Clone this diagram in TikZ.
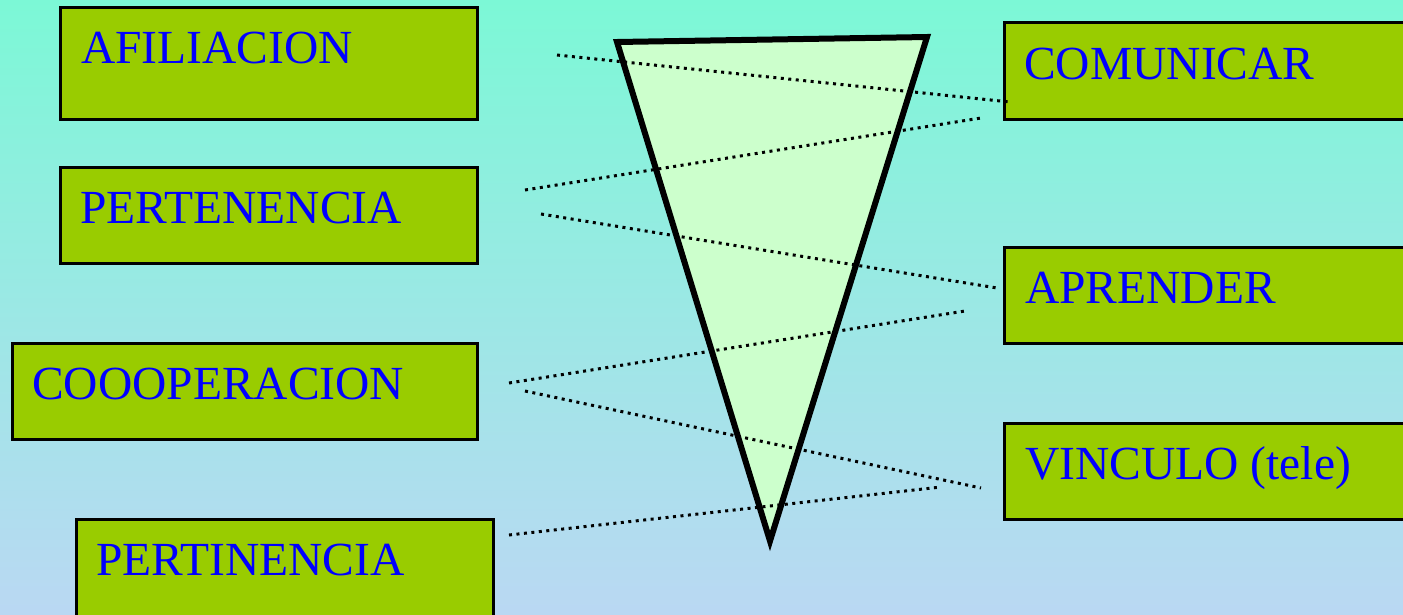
\documentclass[tikz,border=0pt]{standalone}
\usepackage{fontspec}
\setmainfont{Liberation Serif}
\definecolor{bgtop}{RGB}{124,248,214}
\definecolor{bgbot}{RGB}{186,216,243}
\definecolor{boxgreen}{RGB}{153,204,0}
\definecolor{trigreen}{RGB}{204,255,204}
\definecolor{txtblue}{RGB}{0,0,255}
\begin{document}
\begin{tikzpicture}[x=1pt,y=-1pt,
  box/.style={draw=black, line width=3pt, fill=boxgreen, rectangle, inner sep=0pt},
  lbl/.style={anchor=base west, inner sep=0pt, text=txtblue, font=\fontsize{47.5}{50}\selectfont},
  dotline/.style={line width=3pt, dash pattern=on 3pt off 4.5pt, black}]
\useasboundingbox (0,0) rectangle (1403,614);
\clip (0,0) rectangle (1403,614);
\shade[top color=bgtop, bottom color=bgbot] (0,0) rectangle (1403,614);
% left boxes
\node[box, minimum width=417pt, minimum height=112pt] (afil) at (268.5,63) {};
\node[box, minimum width=417pt, minimum height=96pt] (pert) at (268.5,215) {};
\node[box, minimum width=465pt, minimum height=96pt] (coop) at (244.5,391) {};
\node[box, minimum width=417pt, minimum height=112pt] (perti) at (284.5,575) {};
% right boxes
\node[box, minimum width=417pt, minimum height=97pt] (comu) at (1212.5,70.5) {};
\node[box, minimum width=417pt, minimum height=96pt] (apre) at (1212.5,295) {};
\node[box, minimum width=417pt, minimum height=96pt] (vinc) at (1212.5,471) {};
% labels
\node[lbl] (tafil) at (81,63) {AFILIACION};
\node[lbl] (tpert) at (80,223) {PERTENENCIA};
\node[lbl] (tcoop) at (32,399) {COOOPERACION};
\node[lbl] (tperti) at (96,575) {PERTINENCIA};
\node[lbl] (tcomu) at (1024,79) {COMUNICAR};
\node[lbl] (tapre) at (1025,303) {APRENDER};
\node[lbl] (tvinc) at (1025,479) {VINCULO (tele)};
% funnel
\coordinate (tl) at (617,42);
\coordinate (tr) at (927,37);
\coordinate (tb) at (770,541);
\draw[line width=6pt, fill=trigreen, line join=miter] (tl) -- (tr) -- (tb) -- cycle;
% dotted lines
\coordinate (a1) at (557,55);  \coordinate (b1) at (1010,102);
\coordinate (a2) at (525,190); \coordinate (b2) at (981,118);
\coordinate (a3) at (541,214); \coordinate (b3) at (997,288);
\coordinate (a4) at (509,383); \coordinate (b4) at (965,311);
\coordinate (a5) at (525,391); \coordinate (b5) at (981,488);
\coordinate (a6) at (509,535); \coordinate (b6) at (941,487);
\foreach \i in {1,...,6} {\draw[dotline] (a\i) -- (b\i);}
\end{tikzpicture}
\end{document}
